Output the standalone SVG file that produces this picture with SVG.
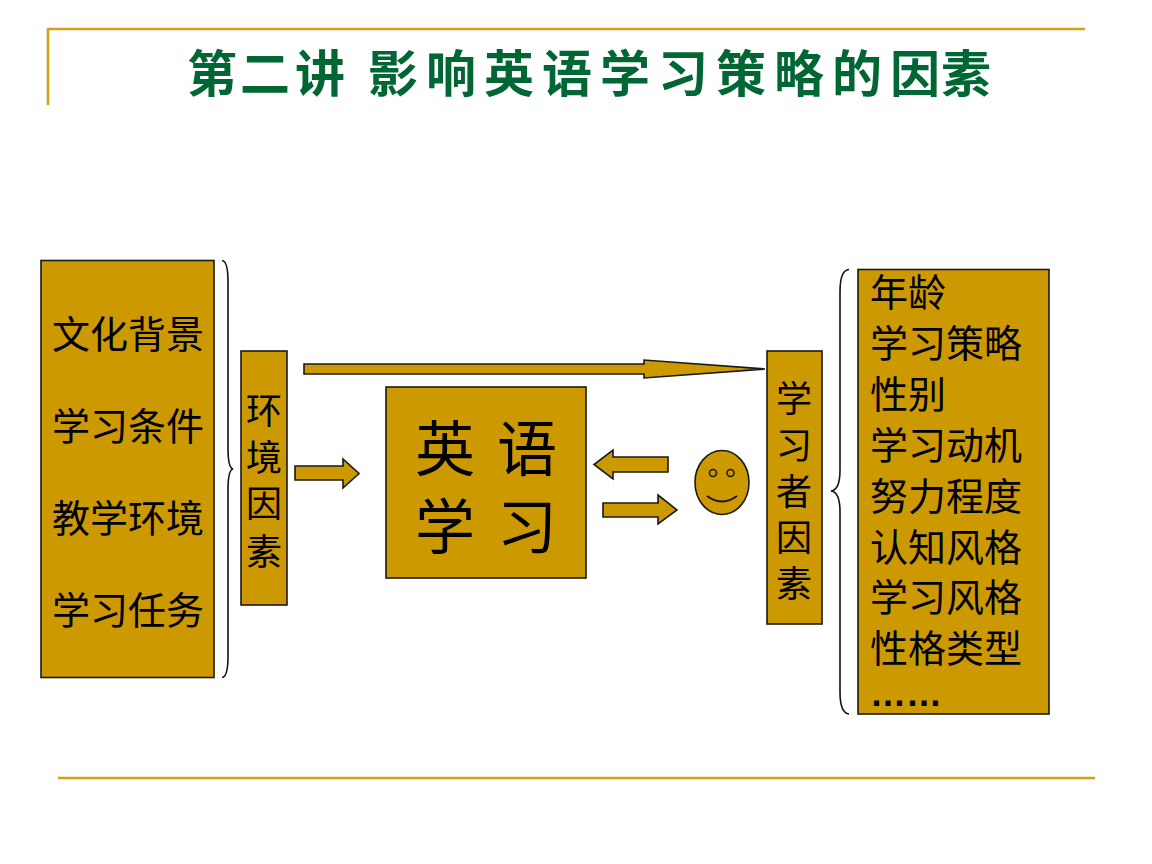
<svg xmlns="http://www.w3.org/2000/svg" width="1152" height="864" viewBox="0 0 1152 864">
<style>
.box{fill:#CC9900;stroke:#1a1a1a;stroke-width:1.6}
.rule{fill:none;stroke:#D4A017;stroke-width:2.6}
.brace{fill:none;stroke:#111;stroke-width:1.6}
.t{font-family:"Noto Sans CJK SC","Noto Sans CJK JP",sans-serif;font-size:38px;fill:#000;font-weight:400}
.c{text-anchor:middle}
.big{font-size:60px}
.v{font-size:36px}
.title{font-family:"Noto Sans CJK SC",sans-serif;font-size:50px;font-weight:700;fill:#006633;text-anchor:middle}
</style>
<rect width="1152" height="864" fill="#fff"/>
<g id="frame">
<path class="rule" d="M48 105V29H1085"/>
<path class="rule" d="M58 778H1095"/>
</g>
<g id="title"><text class="title" y="92" x="212 265 320 393 451 509 567 625 683 741 799 857 915 966">第二讲影响英语学习策略的因素</text></g>
<g id="node-environment-list">
<rect class="box" x="41" y="260.500" width="173" height="417"/>
<text class="t" x="52" y="348">文化背景</text>
<text class="t" x="52" y="440">学习条件</text>
<text class="t" x="52" y="532">教学环境</text>
<text class="t" x="52" y="624">学习任务</text>
</g>
<g id="node-environment">
<rect class="box" x="241" y="351" width="46" height="254"/>
<text class="t v c" x="264 264 264 264" y="424 471 517 565">环境因素</text>
</g>
<g id="node-english">
<rect class="box" x="386" y="387" width="200" height="191"/>
<text class="t big c" x="445 527 445 527" y="471 471 549 549">英语学习</text>
</g>
<g id="node-smiley">
<ellipse class="box" cx="722" cy="482.500" rx="27" ry="32"/>
<circle class="box" cx="713" cy="473" r="3.500"/>
<circle class="box" cx="730.500" cy="473" r="3.500"/>
<path d="M707 496Q722 507 737 496" fill="none" stroke="#111" stroke-width="1.800"/>
</g>
<g id="node-learner">
<rect class="box" x="767" y="351" width="55" height="273"/>
<text class="t v c" x="794 794 794 794 794" y="412 459 505 551 597">学习者因素</text>
</g>
<g id="node-learner-list">
<rect class="box" x="858" y="269.500" width="191" height="444.500"/>
<text class="t"><tspan x="870" y="306">年龄</tspan><tspan x="870" y="357">学习策略</tspan><tspan x="870" y="408">性别</tspan><tspan x="870" y="459">学习动机</tspan><tspan x="870" y="510">努力程度</tspan><tspan x="870" y="561">认知风格</tspan><tspan x="870" y="611">学习风格</tspan><tspan x="870" y="662">性格类型</tspan><tspan x="870" y="706" style="font-family:'Liberation Sans',sans-serif;font-size:36px;font-weight:700">……</tspan></text>
</g>
<g id="connectors">
<path class="brace" d="M222 260.500Q228 261 228 282V448Q228 468 233 469Q228 470 228 490V656Q228 677 222 677.500"/>
<path class="brace" d="M849 269.500Q840 270 840 292V470Q840 490 831 491Q840 492 840 512V692Q840 713 849 714"/>
<path class="box" d="M304 364H644V360L765 369L644 378V374H304Z"/>
<path class="box" d="M295 466H343V459L359 473.500L343 488V480H295Z"/>
<path class="box" d="M668 457H613V450L594 464.500L613 479V472H668Z"/>
<path class="box" d="M603 503H658V495L677 510L658 524V517H603Z"/>
</g>
</svg>
